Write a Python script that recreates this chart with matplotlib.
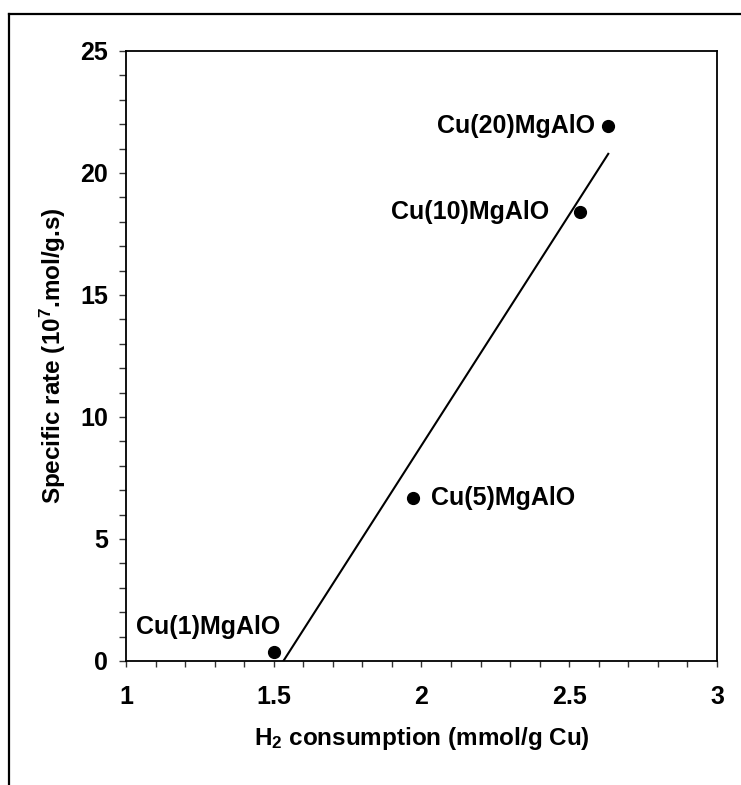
import numpy as np
import matplotlib
matplotlib.use("Agg")
import matplotlib.pyplot as plt
from matplotlib.ticker import MultipleLocator, FixedLocator
from matplotlib.lines import Line2D

plt.rcParams['font.family'] = ['Liberation Sans', 'DejaVu Sans']
plt.rcParams['font.weight'] = 'bold'
plt.rcParams['mathtext.fontset'] = 'custom'
plt.rcParams['mathtext.rm'] = 'Liberation Sans:bold'
plt.rcParams['mathtext.bf'] = 'Liberation Sans:bold'
plt.rcParams['mathtext.default'] = 'bf'

# H2 consumption (mmol/g Cu) and specific rate (1e-7 mol/g.s) per catalyst
samples = ["Cu(1)MgAlO", "Cu(5)MgAlO", "Cu(10)MgAlO", "Cu(20)MgAlO"]
h2_consumption = [1.50, 1.97, 2.535, 2.632]
specific_rate = [0.36, 6.68, 18.41, 21.94]

x_ticks = [1, 1.5, 2, 2.5, 3]
x_tick_labels = ["1", "1.5", "2", "2.5", "3"]
y_ticks = [0, 5, 10, 15, 20, 25]

W, H = 741, 785
fig = plt.figure(figsize=(W / 100, H / 100), dpi=100)
ax = fig.add_axes([126 / W, 1 - 661 / H, (717 - 126) / W, (661 - 51) / H])

# outer frame (top and left edges visible)
fig.add_artist(Line2D([9 / W, 1.0], [1 - 14 / H, 1 - 14 / H], transform=fig.transFigure,
                      color='black', lw=1.6))
fig.add_artist(Line2D([9 / W, 9 / W], [0.0, 1 - 14 / H], transform=fig.transFigure,
                      color='black', lw=1.6))

ax.plot(h2_consumption, specific_rate, 'o', color='black', ms=8.5, zorder=3)

# least-squares trend line, from the zero crossing to the last sample
slope, intercept = np.polyfit(h2_consumption, specific_rate, 1)
x_start = -intercept / slope
x_end = max(h2_consumption)
xs = np.array([x_start, x_end])
ax.plot(xs, slope * xs + intercept, color='black', lw=1.5, zorder=2)

offsets = {
    "Cu(1)MgAlO": (7, 25, 'right'),
    "Cu(5)MgAlO": (18, 0, 'left'),
    "Cu(10)MgAlO": (-30, 0, 'right'),
    "Cu(20)MgAlO": (-13, 0, 'right'),
}
for name, xv, yv in zip(samples, h2_consumption, specific_rate):
    dx, dy, ha = offsets[name]
    ax.annotate(name, (xv, yv), xytext=(dx, dy), textcoords='offset pixels',
                ha=ha, va='center', fontsize=18, fontweight='bold')

ax.set_xlim(1, 3)
ax.set_ylim(0, 25)
ax.xaxis.set_major_locator(FixedLocator(x_ticks))
ax.set_xticklabels(x_tick_labels)
ax.xaxis.set_minor_locator(MultipleLocator(0.1))
ax.yaxis.set_major_locator(FixedLocator(y_ticks))
ax.yaxis.set_minor_locator(MultipleLocator(1))

ax.tick_params(axis='x', which='both', direction='out', length=4.5, width=1,
               color='#333333', pad=13, labelsize=18)
ax.tick_params(axis='y', which='both', direction='out', length=5, width=1,
               color='#333333', pad=8, labelsize=18)
for lab in ax.get_xticklabels() + ax.get_yticklabels():
    lab.set_fontweight('bold')

for s in ax.spines.values():
    s.set_linewidth(1.3)
    s.set_color('black')

ax.set_xlabel(r"H$_{\mathbf{2}}$ consumption (mmol/g Cu)", fontsize=17.5,
              fontweight='bold', labelpad=11)
ax.set_ylabel(r"Specific rate (10$^{\mathbf{7}}$.mol/g.s)", fontsize=17.5,
              fontweight='bold', labelpad=9)

fig.savefig("out.png", dpi=100)
